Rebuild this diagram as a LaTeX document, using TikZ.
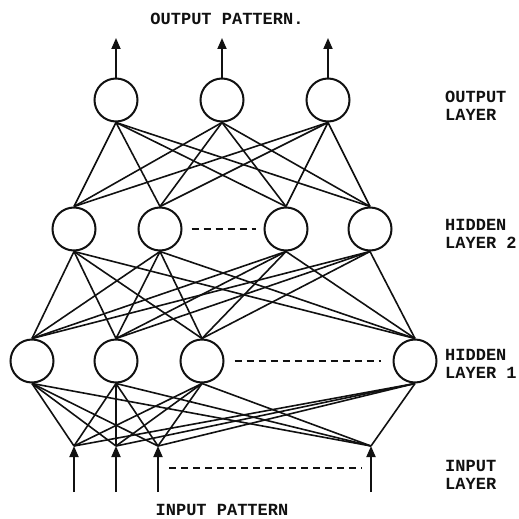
\documentclass[tikz,border=0pt]{standalone}
\usepackage{fontspec}
\newfontfamily\typefont{Liberation Mono}
\usetikzlibrary{arrows.meta}
\definecolor{nnInk}{HTML}{111111}
\tikzset{
  neuron/.style  ={draw=nnInk,circle,line width=2pt,minimum size=43pt,
                   inner sep=0pt,fill=white},
  link/.style    ={nnInk,line width=1.6pt},
  feed/.style    ={-{Triangle[length=11pt,width=9pt]},nnInk,line width=1.8pt},
  gapdash/.style ={nnInk,line width=1.8pt,dash pattern=on 7pt off 5pt},
  lbl/.style     ={font=\typefont\bfseries\fontsize{17}{18}\selectfont,
                   text=nnInk,inner sep=0pt},
  sidelbl/.style ={lbl,anchor=west,align=left},
}

\begin{document}
\begin{tikzpicture}[x=1pt,y=-1pt]
\useasboundingbox (0,0) rectangle (519,519);

% ── input layer ────────────────────────────────────────────────────────────
\coordinate (in1) at (74,446);
\coordinate (in2) at (116,446);
\coordinate (in3) at (158,446);
\coordinate (in4) at (371,446);
\coordinate (ib1) at (74,492);
\coordinate (ib2) at (116,492);
\coordinate (ib3) at (158,492);
\coordinate (ib4) at (371,492);

% ── hidden layers and output layer ─────────────────────────────────────────
\node[neuron] (ha1) at (32,361)  {};
\node[neuron] (ha2) at (116,361) {};
\node[neuron] (ha3) at (202,361) {};
\node[neuron] (ha4) at (415,361) {};

\node[neuron] (hb1) at (74,229)  {};
\node[neuron] (hb2) at (160,229) {};
\node[neuron] (hb3) at (286,229) {};
\node[neuron] (hb4) at (370,229) {};

\node[neuron] (out1) at (116,100) {};
\node[neuron] (out2) at (222,100) {};
\node[neuron] (out3) at (328,100) {};
\coordinate (ot1) at (116,38);
\coordinate (ot2) at (222,38);
\coordinate (ot3) at (328,38);

% ── weights (every unit to every unit of the next layer) ───────────────────
\foreach \a in {in1,in2,in3,in4}
  \foreach \b in {ha1,ha2,ha3,ha4}
    \draw[link] (\a) -- (\b.south);
\foreach \a in {ha1,ha2,ha3,ha4}
  \foreach \b in {hb1,hb2,hb3,hb4}
    \draw[link] (\a.north) -- (\b.south);
\foreach \a in {hb1,hb2,hb3,hb4}
  \foreach \b in {out1,out2,out3}
    \draw[link] (\a.north) -- (\b.south);

% ── pattern in, pattern out ────────────────────────────────────────────────
\draw[feed] (ib1) -- (in1);
\draw[feed] (ib2) -- (in2);
\draw[feed] (ib3) -- (in3);
\draw[feed] (ib4) -- (in4);
\draw[feed] (out1.north) -- (ot1);
\draw[feed] (out2.north) -- (ot2);
\draw[feed] (out3.north) -- (ot3);

\draw[gapdash,shorten <=9pt,shorten >=8pt] (hb2) -- (hb3);
\draw[gapdash,shorten <=10pt,shorten >=12pt] (ha3) -- (ha4);
\draw[gapdash] (169,468) -- (362,468);

% ── labels ─────────────────────────────────────────────────────────────────
\node[lbl] (toplbl) at (227,19) {OUTPUT PATTERN.};
\node[lbl] (botlbl) at (222,510) {INPUT PATTERN};
\node[sidelbl] (outlbl) at (445,106) {OUTPUT\\LAYER};
\node[sidelbl] (hblbl)  at (445,234) {HIDDEN\\LAYER 2};
\node[sidelbl] (halbl)  at (445,364) {HIDDEN\\LAYER 1};
\node[sidelbl] (inlbl)  at (445,475) {INPUT\\LAYER};
\end{tikzpicture}
\end{document}
